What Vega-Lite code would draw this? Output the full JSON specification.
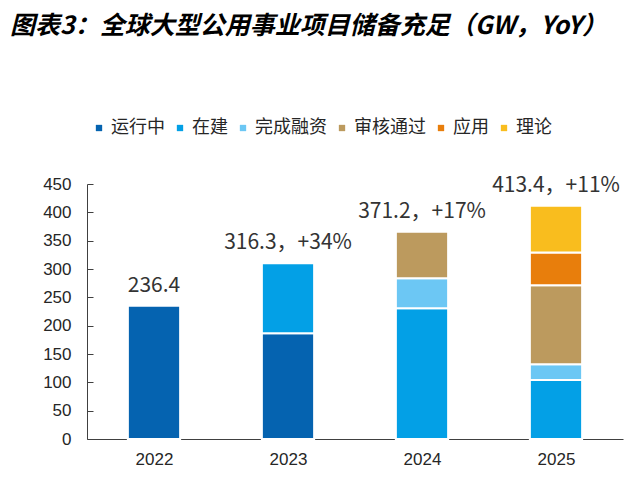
{
  "$schema": "https://vega.github.io/schema/vega-lite/v6.json",
  "width": 536,
  "height": 255,
  "autosize": {"type": "none"},
  "padding": {"left": 87, "top": 184, "right": 17, "bottom": 60},
  "background": "white",
  "title": {
    "text": "图表3：全球大型公用事业项目储备充足（GW，YoY）",
    "anchor": "start",
    "frame": "group",
    "font": "Noto Sans CJK SC",
    "fontSize": 25,
    "fontWeight": "bold",
    "fontStyle": "italic",
    "color": "#000000",
    "dx": -77,
    "offset": 80
  },
  "config": {
    "view": {"stroke": null},
    "font": "Liberation Sans",
    "axis": {"labelOverlap": false}
  },
  "datasets": {
    "bars": [
      {"year": "2022", "type": "运行中", "k": 1, "value": 235},
      {"year": "2023", "type": "运行中", "k": 1, "value": 186.5},
      {"year": "2023", "type": "在建", "k": 2, "value": 123.5},
      {"year": "2024", "type": "在建", "k": 2, "value": 230.6},
      {"year": "2024", "type": "完成融资", "k": 3, "value": 53},
      {"year": "2024", "type": "审核通过", "k": 4, "value": 82.2},
      {"year": "2025", "type": "在建", "k": 2, "value": 104},
      {"year": "2025", "type": "完成融资", "k": 3, "value": 28},
      {"year": "2025", "type": "审核通过", "k": 4, "value": 139.5},
      {"year": "2025", "type": "应用", "k": 5, "value": 57.7},
      {"year": "2025", "type": "理论", "k": 6, "value": 82.2}
    ],
    "labels": [
      {"year": "2022", "label": "236.4"},
      {"year": "2023", "label": "316.3，+34%"},
      {"year": "2024", "label": "371.2，+17%"},
      {"year": "2025", "label": "413.4，+11%"}
    ]
  },
  "data": {"name": "bars"},
  "encoding": {
    "x": {
      "field": "year",
      "type": "nominal",
      "scale": {"paddingInner": 0.61, "paddingOuter": 0.305},
      "axis": {
        "title": null,
        "labelAngle": 0,
        "labelFont": "Liberation Sans",
        "labelFontSize": 17,
        "labelColor": "#262626",
        "labelPadding": 17,
        "domainColor": "#404040",
        "tickColor": "#404040",
        "tickBand": "extent",
        "tickSize": -5
      }
    },
    "y": {
      "field": "value",
      "type": "quantitative",
      "stack": "zero",
      "scale": {"domain": [0, 450], "nice": false},
      "axis": {
        "title": null,
        "values": [0, 50, 100, 150, 200, 250, 300, 350, 400, 450],
        "labelOverlap": false,
        "grid": false,
        "labelFont": "Liberation Sans",
        "labelFontSize": 17,
        "labelColor": "#262626",
        "labelPadding": 22,
        "domainColor": "#404040",
        "tickColor": "#404040",
        "tickSize": -6
      }
    }
  },
  "layer": [
    {
      "mark": {"type": "bar", "stroke": "white", "strokeWidth": 2},
      "encoding": {
        "order": {"field": "k", "type": "quantitative"},
        "color": {
          "field": "type",
          "type": "nominal",
          "scale": {
            "domain": ["运行中", "在建", "完成融资", "审核通过", "应用", "理论"],
            "range": ["#0563B0", "#03A0E6", "#6CC7F4", "#BC9A5E", "#E87E0C", "#F9BD1E"]
          },
          "legend": {
            "title": null,
            "orient": "none",
            "direction": "horizontal",
            "legendX": 3,
            "legendY": -65,
            "symbolType": "square",
            "symbolSize": 40,
            "symbolStrokeWidth": 0,
            "labelFont": "Noto Sans CJK SC",
            "labelFontSize": 18,
            "labelColor": "#262626",
            "labelOffset": 3,
            "columnPadding": 6,
            "padding": 0
          }
        }
      }
    },
    {
      "transform": [
        {"aggregate": [{"op": "sum", "field": "value", "as": "value"}], "groupby": ["year"]},
        {"lookup": "year", "from": {"data": {"name": "labels"}, "key": "year", "fields": ["label"]}}
      ],
      "mark": {"type": "text", "font": "Noto Sans CJK SC", "fontSize": 21, "color": "#333333", "baseline": "alphabetic", "dy": -14},
      "encoding": {
        "y": {"field": "value", "type": "quantitative", "stack": null},
        "text": {"field": "label"}
      }
    }
  ]
}
